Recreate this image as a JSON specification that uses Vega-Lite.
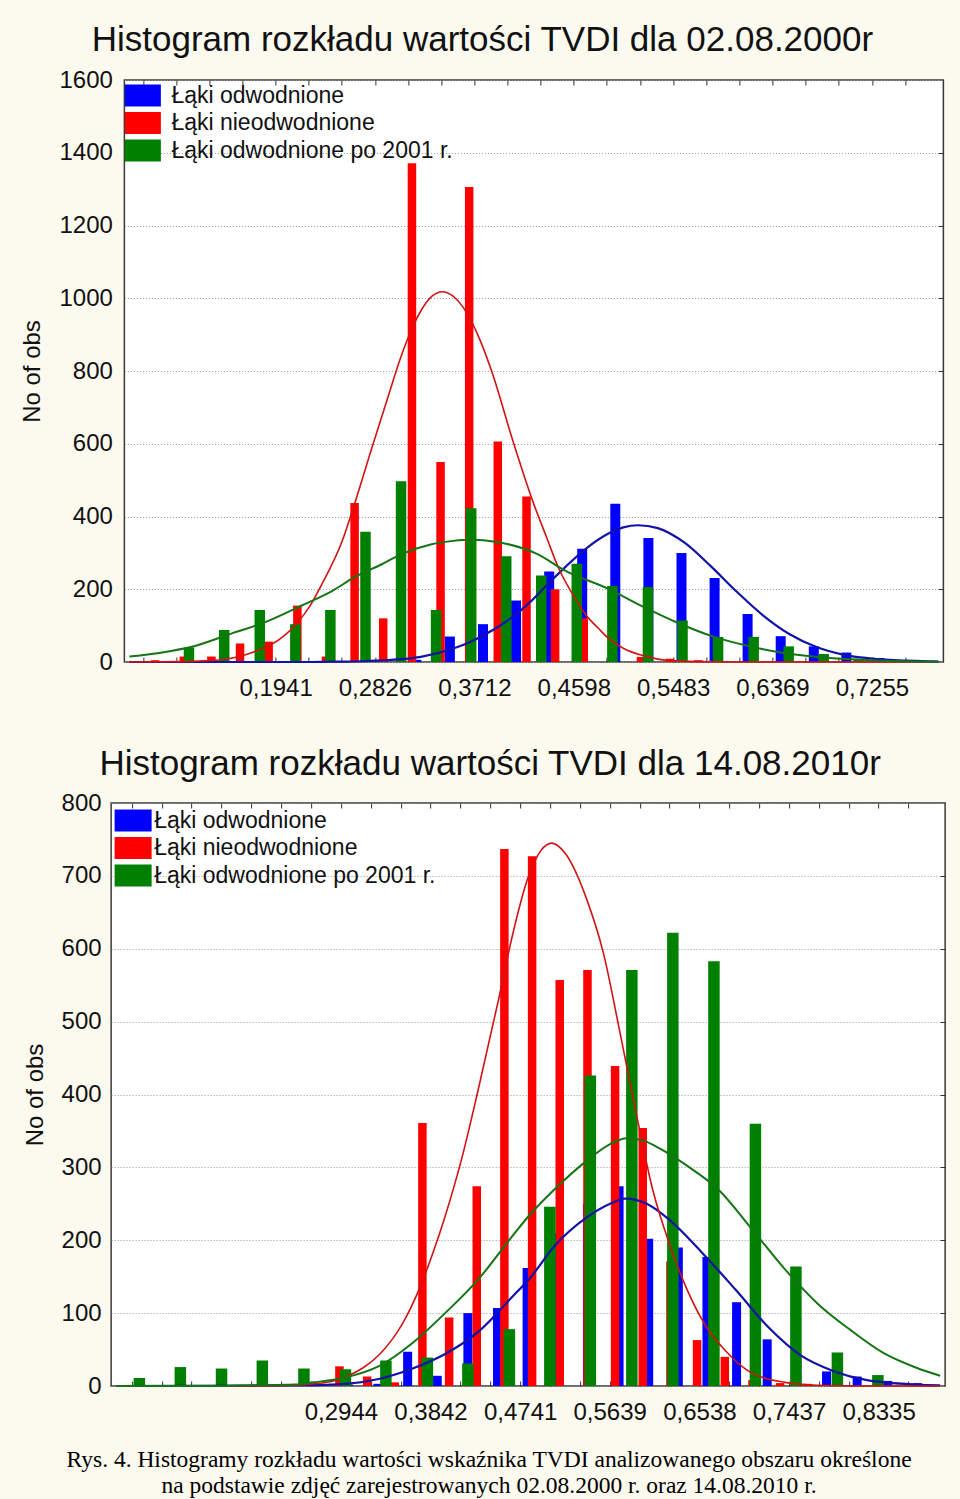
{
  "$schema": "https://vega.github.io/schema/vega-lite/v6.json",
  "background": "#fcf9ef",
  "padding": {"left": 20, "top": 22, "right": 8, "bottom": 2},
  "config": {
    "font": "Liberation Sans",
    "view": {"fill": "white", "stroke": "#3a3a3a", "strokeWidth": 1.5},
    "axis": {"labelFont": "Liberation Sans", "labelFontSize": 24, "labelColor": "#111", "titleFont": "Liberation Sans", "titleFontSize": 24, "titleFontWeight": "normal", "titleColor": "#111", "domain": false, "grid": false, "tickColor": "#333"}
  },
  "datasets": {
    "slupki2000": [
      {"seria": "Łąki odwodnione", "tvdi": 0.2900, "n": 3},
      {"seria": "Łąki odwodnione", "tvdi": 0.3195, "n": 6},
      {"seria": "Łąki odwodnione", "tvdi": 0.3494, "n": 70},
      {"seria": "Łąki odwodnione", "tvdi": 0.3789, "n": 104},
      {"seria": "Łąki odwodnione", "tvdi": 0.4084, "n": 169},
      {"seria": "Łąki odwodnione", "tvdi": 0.4379, "n": 249},
      {"seria": "Łąki odwodnione", "tvdi": 0.4673, "n": 311},
      {"seria": "Łąki odwodnione", "tvdi": 0.4968, "n": 435},
      {"seria": "Łąki odwodnione", "tvdi": 0.5263, "n": 341},
      {"seria": "Łąki odwodnione", "tvdi": 0.5558, "n": 300},
      {"seria": "Łąki odwodnione", "tvdi": 0.5853, "n": 231},
      {"seria": "Łąki odwodnione", "tvdi": 0.6147, "n": 132},
      {"seria": "Łąki odwodnione", "tvdi": 0.6442, "n": 71},
      {"seria": "Łąki odwodnione", "tvdi": 0.6737, "n": 43},
      {"seria": "Łąki odwodnione", "tvdi": 0.7027, "n": 26},
      {"seria": "Łąki odwodnione", "tvdi": 0.7322, "n": 11},
      {"seria": "Łąki odwodnione", "tvdi": 0.7617, "n": 5},
      {"seria": "Łąki nieodwodnione", "tvdi": 0.0867, "n": 5},
      {"seria": "Łąki nieodwodnione", "tvdi": 0.1123, "n": 15},
      {"seria": "Łąki nieodwodnione", "tvdi": 0.1369, "n": 15},
      {"seria": "Łąki nieodwodnione", "tvdi": 0.1624, "n": 51},
      {"seria": "Łąki nieodwodnione", "tvdi": 0.1879, "n": 56},
      {"seria": "Łąki nieodwodnione", "tvdi": 0.2135, "n": 155},
      {"seria": "Łąki nieodwodnione", "tvdi": 0.2390, "n": 15},
      {"seria": "Łąki nieodwodnione", "tvdi": 0.2645, "n": 437},
      {"seria": "Łąki nieodwodnione", "tvdi": 0.2900, "n": 120},
      {"seria": "Łąki nieodwodnione", "tvdi": 0.3156, "n": 1371},
      {"seria": "Łąki nieodwodnione", "tvdi": 0.3411, "n": 550},
      {"seria": "Łąki nieodwodnione", "tvdi": 0.3666, "n": 1306},
      {"seria": "Łąki nieodwodnione", "tvdi": 0.3921, "n": 606},
      {"seria": "Łąki nieodwodnione", "tvdi": 0.4177, "n": 455},
      {"seria": "Łąki nieodwodnione", "tvdi": 0.4432, "n": 200},
      {"seria": "Łąki nieodwodnione", "tvdi": 0.4687, "n": 120},
      {"seria": "Łąki nieodwodnione", "tvdi": 0.4942, "n": 40},
      {"seria": "Łąki nieodwodnione", "tvdi": 0.5197, "n": 14},
      {"seria": "Łąki nieodwodnione", "tvdi": 0.5453, "n": 9},
      {"seria": "Łąki nieodwodnione", "tvdi": 0.5708, "n": 5},
      {"seria": "Łąki odwodnione po 2001 r.", "tvdi": 0.1169, "n": 40},
      {"seria": "Łąki odwodnione po 2001 r.", "tvdi": 0.1483, "n": 88},
      {"seria": "Łąki odwodnione po 2001 r.", "tvdi": 0.1800, "n": 143},
      {"seria": "Łąki odwodnione po 2001 r.", "tvdi": 0.2117, "n": 104},
      {"seria": "Łąki odwodnione po 2001 r.", "tvdi": 0.2429, "n": 143},
      {"seria": "Łąki odwodnione po 2001 r.", "tvdi": 0.2742, "n": 358},
      {"seria": "Łąki odwodnione po 2001 r.", "tvdi": 0.3059, "n": 497},
      {"seria": "Łąki odwodnione po 2001 r.", "tvdi": 0.3371, "n": 143},
      {"seria": "Łąki odwodnione po 2001 r.", "tvdi": 0.3684, "n": 423},
      {"seria": "Łąki odwodnione po 2001 r.", "tvdi": 0.3996, "n": 291},
      {"seria": "Łąki odwodnione po 2001 r.", "tvdi": 0.4308, "n": 238},
      {"seria": "Łąki odwodnione po 2001 r.", "tvdi": 0.4625, "n": 270},
      {"seria": "Łąki odwodnione po 2001 r.", "tvdi": 0.4942, "n": 209},
      {"seria": "Łąki odwodnione po 2001 r.", "tvdi": 0.5259, "n": 206},
      {"seria": "Łąki odwodnione po 2001 r.", "tvdi": 0.5567, "n": 114},
      {"seria": "Łąki odwodnione po 2001 r.", "tvdi": 0.5884, "n": 69},
      {"seria": "Łąki odwodnione po 2001 r.", "tvdi": 0.6201, "n": 69},
      {"seria": "Łąki odwodnione po 2001 r.", "tvdi": 0.6513, "n": 43},
      {"seria": "Łąki odwodnione po 2001 r.", "tvdi": 0.6825, "n": 22},
      {"seria": "Łąki odwodnione po 2001 r.", "tvdi": 0.7138, "n": 9},
      {"seria": "Łąki odwodnione po 2001 r.", "tvdi": 0.7450, "n": 4}
    ],
    "krzywe2000": [
      {"seria": "Łąki odwodnione", "tvdi": 0.0638, "n": 0},
      {"seria": "Łąki odwodnione", "tvdi": 0.2179, "n": 0},
      {"seria": "Łąki odwodnione", "tvdi": 0.2443, "n": 1},
      {"seria": "Łąki odwodnione", "tvdi": 0.2707, "n": 2},
      {"seria": "Łąki odwodnione", "tvdi": 0.2944, "n": 5},
      {"seria": "Łąki odwodnione", "tvdi": 0.3235, "n": 14},
      {"seria": "Łąki odwodnione", "tvdi": 0.3525, "n": 37},
      {"seria": "Łąki odwodnione", "tvdi": 0.3675, "n": 55},
      {"seria": "Łąki odwodnione", "tvdi": 0.3877, "n": 88},
      {"seria": "Łąki odwodnione", "tvdi": 0.4027, "n": 118},
      {"seria": "Łąki odwodnione", "tvdi": 0.4221, "n": 168},
      {"seria": "Łąki odwodnione", "tvdi": 0.4379, "n": 218},
      {"seria": "Łąki odwodnione", "tvdi": 0.4529, "n": 263},
      {"seria": "Łąki odwodnione", "tvdi": 0.4705, "n": 311},
      {"seria": "Łąki odwodnione", "tvdi": 0.4907, "n": 353},
      {"seria": "Łąki odwodnione", "tvdi": 0.5039, "n": 370},
      {"seria": "Łąki odwodnione", "tvdi": 0.5171, "n": 376},
      {"seria": "Łąki odwodnione", "tvdi": 0.5347, "n": 368},
      {"seria": "Łąki odwodnione", "tvdi": 0.5585, "n": 328},
      {"seria": "Łąki odwodnione", "tvdi": 0.5814, "n": 265},
      {"seria": "Łąki odwodnione", "tvdi": 0.6051, "n": 193},
      {"seria": "Łąki odwodnione", "tvdi": 0.6289, "n": 127},
      {"seria": "Łąki odwodnione", "tvdi": 0.6518, "n": 77},
      {"seria": "Łąki odwodnione", "tvdi": 0.6755, "n": 42},
      {"seria": "Łąki odwodnione", "tvdi": 0.7019, "n": 19},
      {"seria": "Łąki odwodnione", "tvdi": 0.7310, "n": 8},
      {"seria": "Łąki odwodnione", "tvdi": 0.7750, "n": 2},
      {"seria": "Łąki odwodnione", "tvdi": 0.7847, "n": 1},
      {"seria": "Łąki nieodwodnione", "tvdi": 0.0638, "n": 0},
      {"seria": "Łąki nieodwodnione", "tvdi": 0.1123, "n": 1},
      {"seria": "Łąki nieodwodnione", "tvdi": 0.1299, "n": 3},
      {"seria": "Łąki nieodwodnione", "tvdi": 0.1475, "n": 7},
      {"seria": "Łąki nieodwodnione", "tvdi": 0.1651, "n": 18},
      {"seria": "Łąki nieodwodnione", "tvdi": 0.1783, "n": 32},
      {"seria": "Łąki nieodwodnione", "tvdi": 0.1915, "n": 50},
      {"seria": "Łąki nieodwodnione", "tvdi": 0.2029, "n": 75},
      {"seria": "Łąki nieodwodnione", "tvdi": 0.2135, "n": 108},
      {"seria": "Łąki nieodwodnione", "tvdi": 0.2249, "n": 155},
      {"seria": "Łąki nieodwodnione", "tvdi": 0.2355, "n": 215},
      {"seria": "Łąki nieodwodnione", "tvdi": 0.2531, "n": 330},
      {"seria": "Łąki nieodwodnione", "tvdi": 0.2645, "n": 435},
      {"seria": "Łąki nieodwodnione", "tvdi": 0.2795, "n": 585},
      {"seria": "Łąki nieodwodnione", "tvdi": 0.2944, "n": 730},
      {"seria": "Łąki nieodwodnione", "tvdi": 0.3059, "n": 840},
      {"seria": "Łąki nieodwodnione", "tvdi": 0.3147, "n": 910},
      {"seria": "Łąki nieodwodnione", "tvdi": 0.3235, "n": 965},
      {"seria": "Łąki nieodwodnione", "tvdi": 0.3332, "n": 1005},
      {"seria": "Łąki nieodwodnione", "tvdi": 0.3428, "n": 1018},
      {"seria": "Łąki nieodwodnione", "tvdi": 0.3525, "n": 1005},
      {"seria": "Łąki nieodwodnione", "tvdi": 0.3613, "n": 975},
      {"seria": "Łąki nieodwodnione", "tvdi": 0.3763, "n": 885},
      {"seria": "Łąki nieodwodnione", "tvdi": 0.3877, "n": 790},
      {"seria": "Łąki nieodwodnione", "tvdi": 0.4053, "n": 610},
      {"seria": "Łąki nieodwodnione", "tvdi": 0.4229, "n": 445},
      {"seria": "Łąki nieodwodnione", "tvdi": 0.4353, "n": 345},
      {"seria": "Łąki nieodwodnione", "tvdi": 0.4467, "n": 255},
      {"seria": "Łąki nieodwodnione", "tvdi": 0.4581, "n": 190},
      {"seria": "Łąki nieodwodnione", "tvdi": 0.4705, "n": 130},
      {"seria": "Łąki nieodwodnione", "tvdi": 0.4819, "n": 92},
      {"seria": "Łąki nieodwodnione", "tvdi": 0.4907, "n": 65},
      {"seria": "Łąki nieodwodnione", "tvdi": 0.5039, "n": 38},
      {"seria": "Łąki nieodwodnione", "tvdi": 0.5197, "n": 19},
      {"seria": "Łąki nieodwodnione", "tvdi": 0.5347, "n": 8},
      {"seria": "Łąki nieodwodnione", "tvdi": 0.5523, "n": 3},
      {"seria": "Łąki nieodwodnione", "tvdi": 0.5699, "n": 1},
      {"seria": "Łąki nieodwodnione", "tvdi": 0.6051, "n": 0},
      {"seria": "Łąki nieodwodnione", "tvdi": 0.7847, "n": 0},
      {"seria": "Łąki odwodnione po 2001 r.", "tvdi": 0.0638, "n": 15},
      {"seria": "Łąki odwodnione po 2001 r.", "tvdi": 0.0946, "n": 27},
      {"seria": "Łąki odwodnione po 2001 r.", "tvdi": 0.1184, "n": 41},
      {"seria": "Łąki odwodnione po 2001 r.", "tvdi": 0.1563, "n": 80},
      {"seria": "Łąki odwodnione po 2001 r.", "tvdi": 0.1827, "n": 107},
      {"seria": "Łąki odwodnione po 2001 r.", "tvdi": 0.2179, "n": 156},
      {"seria": "Łąki odwodnione po 2001 r.", "tvdi": 0.2443, "n": 195},
      {"seria": "Łąki odwodnione po 2001 r.", "tvdi": 0.2645, "n": 233},
      {"seria": "Łąki odwodnione po 2001 r.", "tvdi": 0.2883, "n": 268},
      {"seria": "Łąki odwodnione po 2001 r.", "tvdi": 0.3059, "n": 296},
      {"seria": "Łąki odwodnione po 2001 r.", "tvdi": 0.3323, "n": 323},
      {"seria": "Łąki odwodnione po 2001 r.", "tvdi": 0.3525, "n": 333},
      {"seria": "Łąki odwodnione po 2001 r.", "tvdi": 0.3675, "n": 336},
      {"seria": "Łąki odwodnione po 2001 r.", "tvdi": 0.3912, "n": 330},
      {"seria": "Łąki odwodnione po 2001 r.", "tvdi": 0.4265, "n": 298},
      {"seria": "Łąki odwodnione po 2001 r.", "tvdi": 0.4529, "n": 250},
      {"seria": "Łąki odwodnione po 2001 r.", "tvdi": 0.4907, "n": 201},
      {"seria": "Łąki odwodnione po 2001 r.", "tvdi": 0.5197, "n": 155},
      {"seria": "Łąki odwodnione po 2001 r.", "tvdi": 0.5523, "n": 108},
      {"seria": "Łąki odwodnione po 2001 r.", "tvdi": 0.5849, "n": 69},
      {"seria": "Łąki odwodnione po 2001 r.", "tvdi": 0.6139, "n": 45},
      {"seria": "Łąki odwodnione po 2001 r.", "tvdi": 0.6430, "n": 27},
      {"seria": "Łąki odwodnione po 2001 r.", "tvdi": 0.6729, "n": 15},
      {"seria": "Łąki odwodnione po 2001 r.", "tvdi": 0.7019, "n": 8},
      {"seria": "Łąki odwodnione po 2001 r.", "tvdi": 0.7310, "n": 4},
      {"seria": "Łąki odwodnione po 2001 r.", "tvdi": 0.7750, "n": 1},
      {"seria": "Łąki odwodnione po 2001 r.", "tvdi": 0.7847, "n": 1}
    ],
    "slupki2010": [
      {"seria": "Łąki odwodnione", "tvdi": 0.3018, "n": 2},
      {"seria": "Łąki odwodnione", "tvdi": 0.3315, "n": 3},
      {"seria": "Łąki odwodnione", "tvdi": 0.3613, "n": 47},
      {"seria": "Łąki odwodnione", "tvdi": 0.3910, "n": 14},
      {"seria": "Łąki odwodnione", "tvdi": 0.4217, "n": 100},
      {"seria": "Łąki odwodnione", "tvdi": 0.4514, "n": 107},
      {"seria": "Łąki odwodnione", "tvdi": 0.4811, "n": 162},
      {"seria": "Łąki odwodnione", "tvdi": 0.5108, "n": 210},
      {"seria": "Łąki odwodnione", "tvdi": 0.5416, "n": 250},
      {"seria": "Łąki odwodnione", "tvdi": 0.5733, "n": 274},
      {"seria": "Łąki odwodnione", "tvdi": 0.6030, "n": 202},
      {"seria": "Łąki odwodnione", "tvdi": 0.6327, "n": 190},
      {"seria": "Łąki odwodnione", "tvdi": 0.6614, "n": 177},
      {"seria": "Łąki odwodnione", "tvdi": 0.6911, "n": 115},
      {"seria": "Łąki odwodnione", "tvdi": 0.7218, "n": 64},
      {"seria": "Łąki odwodnione", "tvdi": 0.7516, "n": 40},
      {"seria": "Łąki odwodnione", "tvdi": 0.7813, "n": 20},
      {"seria": "Łąki odwodnione", "tvdi": 0.8120, "n": 13},
      {"seria": "Łąki odwodnione", "tvdi": 0.8427, "n": 7},
      {"seria": "Łąki odwodnione", "tvdi": 0.8724, "n": 4},
      {"seria": "Łąki nieodwodnione", "tvdi": 0.2672, "n": 3},
      {"seria": "Łąki nieodwodnione", "tvdi": 0.2929, "n": 27},
      {"seria": "Łąki nieodwodnione", "tvdi": 0.3207, "n": 13},
      {"seria": "Łąki nieodwodnione", "tvdi": 0.3484, "n": 5},
      {"seria": "Łąki nieodwodnione", "tvdi": 0.3761, "n": 361},
      {"seria": "Łąki nieodwodnione", "tvdi": 0.4029, "n": 94},
      {"seria": "Łąki nieodwodnione", "tvdi": 0.4306, "n": 274},
      {"seria": "Łąki nieodwodnione", "tvdi": 0.4583, "n": 737},
      {"seria": "Łąki nieodwodnione", "tvdi": 0.4861, "n": 727},
      {"seria": "Łąki nieodwodnione", "tvdi": 0.5138, "n": 557},
      {"seria": "Łąki nieodwodnione", "tvdi": 0.5416, "n": 571},
      {"seria": "Łąki nieodwodnione", "tvdi": 0.5693, "n": 439},
      {"seria": "Łąki nieodwodnione", "tvdi": 0.5970, "n": 354},
      {"seria": "Łąki nieodwodnione", "tvdi": 0.6248, "n": 171},
      {"seria": "Łąki nieodwodnione", "tvdi": 0.6515, "n": 63},
      {"seria": "Łąki nieodwodnione", "tvdi": 0.6793, "n": 40},
      {"seria": "Łąki nieodwodnione", "tvdi": 0.7070, "n": 8},
      {"seria": "Łąki nieodwodnione", "tvdi": 0.7347, "n": 4},
      {"seria": "Łąki nieodwodnione", "tvdi": 0.7625, "n": 3},
      {"seria": "Łąki odwodnione po 2001 r.", "tvdi": 0.0923, "n": 11},
      {"seria": "Łąki odwodnione po 2001 r.", "tvdi": 0.1334, "n": 26},
      {"seria": "Łąki odwodnione po 2001 r.", "tvdi": 0.1747, "n": 24},
      {"seria": "Łąki odwodnione po 2001 r.", "tvdi": 0.2156, "n": 35},
      {"seria": "Łąki odwodnione po 2001 r.", "tvdi": 0.2573, "n": 24},
      {"seria": "Łąki odwodnione po 2001 r.", "tvdi": 0.2989, "n": 23},
      {"seria": "Łąki odwodnione po 2001 r.", "tvdi": 0.3395, "n": 35},
      {"seria": "Łąki odwodnione po 2001 r.", "tvdi": 0.3811, "n": 39},
      {"seria": "Łąki odwodnione po 2001 r.", "tvdi": 0.4217, "n": 31},
      {"seria": "Łąki odwodnione po 2001 r.", "tvdi": 0.4633, "n": 78},
      {"seria": "Łąki odwodnione po 2001 r.", "tvdi": 0.5039, "n": 246},
      {"seria": "Łąki odwodnione po 2001 r.", "tvdi": 0.5445, "n": 426},
      {"seria": "Łąki odwodnione po 2001 r.", "tvdi": 0.5861, "n": 571},
      {"seria": "Łąki odwodnione po 2001 r.", "tvdi": 0.6272, "n": 622},
      {"seria": "Łąki odwodnione po 2001 r.", "tvdi": 0.6684, "n": 583},
      {"seria": "Łąki odwodnione po 2001 r.", "tvdi": 0.7100, "n": 360},
      {"seria": "Łąki odwodnione po 2001 r.", "tvdi": 0.7506, "n": 164},
      {"seria": "Łąki odwodnione po 2001 r.", "tvdi": 0.7922, "n": 46},
      {"seria": "Łąki odwodnione po 2001 r.", "tvdi": 0.8328, "n": 15}
    ],
    "krzywe2010": [
      {"seria": "Łąki odwodnione", "tvdi": 0.0690, "n": 0},
      {"seria": "Łąki odwodnione", "tvdi": 0.2573, "n": 1},
      {"seria": "Łąki odwodnione", "tvdi": 0.2998, "n": 3},
      {"seria": "Łąki odwodnione", "tvdi": 0.3335, "n": 10},
      {"seria": "Łąki odwodnione", "tvdi": 0.3662, "n": 24},
      {"seria": "Łąki odwodnione", "tvdi": 0.3989, "n": 44},
      {"seria": "Łąki odwodnione", "tvdi": 0.4326, "n": 75},
      {"seria": "Łąki odwodnione", "tvdi": 0.4653, "n": 121},
      {"seria": "Łąki odwodnione", "tvdi": 0.4851, "n": 150},
      {"seria": "Łąki odwodnione", "tvdi": 0.5079, "n": 191},
      {"seria": "Łąki odwodnione", "tvdi": 0.5416, "n": 232},
      {"seria": "Łąki odwodnione", "tvdi": 0.5643, "n": 250},
      {"seria": "Łąki odwodnione", "tvdi": 0.5792, "n": 257},
      {"seria": "Łąki odwodnione", "tvdi": 0.6010, "n": 250},
      {"seria": "Łąki odwodnione", "tvdi": 0.6238, "n": 228},
      {"seria": "Łąki odwodnione", "tvdi": 0.6565, "n": 183},
      {"seria": "Łąki odwodnione", "tvdi": 0.6902, "n": 132},
      {"seria": "Łąki odwodnione", "tvdi": 0.7228, "n": 81},
      {"seria": "Łąki odwodnione", "tvdi": 0.7555, "n": 42},
      {"seria": "Łąki odwodnione", "tvdi": 0.7892, "n": 20},
      {"seria": "Łąki odwodnione", "tvdi": 0.8219, "n": 8},
      {"seria": "Łąki odwodnione", "tvdi": 0.8714, "n": 2},
      {"seria": "Łąki odwodnione", "tvdi": 0.8952, "n": 1},
      {"seria": "Łąki nieodwodnione", "tvdi": 0.0690, "n": 0},
      {"seria": "Łąki nieodwodnione", "tvdi": 0.2077, "n": 0},
      {"seria": "Łąki nieodwodnione", "tvdi": 0.2473, "n": 1},
      {"seria": "Łąki nieodwodnione", "tvdi": 0.2672, "n": 3},
      {"seria": "Łąki nieodwodnione", "tvdi": 0.2870, "n": 7},
      {"seria": "Łąki nieodwodnione", "tvdi": 0.2998, "n": 13},
      {"seria": "Łąki nieodwodnione", "tvdi": 0.3167, "n": 25},
      {"seria": "Łąki nieodwodnione", "tvdi": 0.3335, "n": 44},
      {"seria": "Łąki nieodwodnione", "tvdi": 0.3464, "n": 65},
      {"seria": "Łąki nieodwodnione", "tvdi": 0.3563, "n": 86},
      {"seria": "Łąki nieodwodnione", "tvdi": 0.3732, "n": 134},
      {"seria": "Łąki nieodwodnione", "tvdi": 0.3860, "n": 180},
      {"seria": "Łąki nieodwodnione", "tvdi": 0.3989, "n": 233},
      {"seria": "Łąki nieodwodnione", "tvdi": 0.4157, "n": 313},
      {"seria": "Łąki nieodwodnione", "tvdi": 0.4326, "n": 410},
      {"seria": "Łąki nieodwodnione", "tvdi": 0.4524, "n": 530},
      {"seria": "Łąki nieodwodnione", "tvdi": 0.4653, "n": 612},
      {"seria": "Łąki nieodwodnione", "tvdi": 0.4821, "n": 698},
      {"seria": "Łąki nieodwodnione", "tvdi": 0.4950, "n": 735},
      {"seria": "Łąki nieodwodnione", "tvdi": 0.5059, "n": 745},
      {"seria": "Łąki nieodwodnione", "tvdi": 0.5198, "n": 730},
      {"seria": "Łąki nieodwodnione", "tvdi": 0.5416, "n": 665},
      {"seria": "Łąki nieodwodnione", "tvdi": 0.5574, "n": 595},
      {"seria": "Łąki nieodwodnione", "tvdi": 0.5742, "n": 485},
      {"seria": "Łąki nieodwodnione", "tvdi": 0.5911, "n": 370},
      {"seria": "Łąki nieodwodnione", "tvdi": 0.6069, "n": 270},
      {"seria": "Łąki nieodwodnione", "tvdi": 0.6238, "n": 195},
      {"seria": "Łąki nieodwodnione", "tvdi": 0.6406, "n": 135},
      {"seria": "Łąki nieodwodnione", "tvdi": 0.6604, "n": 82},
      {"seria": "Łąki nieodwodnione", "tvdi": 0.6802, "n": 48},
      {"seria": "Łąki nieodwodnione", "tvdi": 0.7060, "n": 18},
      {"seria": "Łąki nieodwodnione", "tvdi": 0.7397, "n": 5},
      {"seria": "Łąki nieodwodnione", "tvdi": 0.7724, "n": 1},
      {"seria": "Łąki nieodwodnione", "tvdi": 0.8120, "n": 0},
      {"seria": "Łąki nieodwodnione", "tvdi": 0.8952, "n": 0},
      {"seria": "Łąki odwodnione po 2001 r.", "tvdi": 0.0690, "n": 0},
      {"seria": "Łąki odwodnione po 2001 r.", "tvdi": 0.1582, "n": 0},
      {"seria": "Łąki odwodnione po 2001 r.", "tvdi": 0.2077, "n": 1},
      {"seria": "Łąki odwodnione po 2001 r.", "tvdi": 0.2473, "n": 2},
      {"seria": "Łąki odwodnione po 2001 r.", "tvdi": 0.2672, "n": 5},
      {"seria": "Łąki odwodnione po 2001 r.", "tvdi": 0.2998, "n": 12},
      {"seria": "Łąki odwodnione po 2001 r.", "tvdi": 0.3335, "n": 28},
      {"seria": "Łąki odwodnione po 2001 r.", "tvdi": 0.3662, "n": 59},
      {"seria": "Łąki odwodnione po 2001 r.", "tvdi": 0.3989, "n": 100},
      {"seria": "Łąki odwodnione po 2001 r.", "tvdi": 0.4326, "n": 147},
      {"seria": "Łąki odwodnione po 2001 r.", "tvdi": 0.4653, "n": 204},
      {"seria": "Łąki odwodnione po 2001 r.", "tvdi": 0.4851, "n": 237},
      {"seria": "Łąki odwodnione po 2001 r.", "tvdi": 0.5079, "n": 269},
      {"seria": "Łąki odwodnione po 2001 r.", "tvdi": 0.5416, "n": 310},
      {"seria": "Łąki odwodnione po 2001 r.", "tvdi": 0.5643, "n": 332},
      {"seria": "Łąki odwodnione po 2001 r.", "tvdi": 0.5812, "n": 340},
      {"seria": "Łąki odwodnione po 2001 r.", "tvdi": 0.5990, "n": 336},
      {"seria": "Łąki odwodnione po 2001 r.", "tvdi": 0.6139, "n": 326},
      {"seria": "Łąki odwodnione po 2001 r.", "tvdi": 0.6406, "n": 303},
      {"seria": "Łąki odwodnione po 2001 r.", "tvdi": 0.6733, "n": 269},
      {"seria": "Łąki odwodnione po 2001 r.", "tvdi": 0.7060, "n": 216},
      {"seria": "Łąki odwodnione po 2001 r.", "tvdi": 0.7397, "n": 160},
      {"seria": "Łąki odwodnione po 2001 r.", "tvdi": 0.7724, "n": 113},
      {"seria": "Łąki odwodnione po 2001 r.", "tvdi": 0.8051, "n": 77},
      {"seria": "Łąki odwodnione po 2001 r.", "tvdi": 0.8387, "n": 45},
      {"seria": "Łąki odwodnione po 2001 r.", "tvdi": 0.8714, "n": 25},
      {"seria": "Łąki odwodnione po 2001 r.", "tvdi": 0.8952, "n": 14}
    ]
  },
  "title": {
    "text": ["Rys. 4. Histogramy rozkładu wartości wskaźnika TVDI analizowanego obszaru określone", "na podstawie zdjęć zarejestrowanych 02.08.2000 r. oraz 14.08.2010 r."],
    "orient": "bottom", "anchor": "middle", "font": "Liberation Serif", "fontSize": 23.5, "fontWeight": "normal", "color": "#000", "lineHeight": 26, "offset": 23, "baseline": "top"
  },
  "center": true,
  "spacing": 45,
  "resolve": {"scale": {"color": "independent"}, "legend": {"color": "independent"}},
  "vconcat": [
    {
      "width": 819, "height": 582,
      "title": {"text": "Histogram rozkładu wartości TVDI dla 02.08.2000r", "font": "Liberation Sans", "fontSize": 35, "fontWeight": "normal", "color": "#111", "anchor": "middle", "frame": "bounds", "baseline": "alphabetic", "offset": -18},
      "resolve": {"axis": {"x": "independent", "y": "independent"}},
      "layer": [
        {
          "data": {"name": "slupki2000"},
          "transform": [{"filter": "datum.seria == 'Łąki odwodnione'"}],
          "mark": {"type": "bar", "width": 10, "orient": "vertical"},
          "encoding": {
            "x": {"field": "tvdi", "type": "quantitative", "scale": {"domain": [0.0638, 0.7847], "nice": false, "zero": false},
              "axis": {"orient": "bottom", "title": null, "values": [0.0761, 0.1056, 0.1351, 0.1646, 0.1941, 0.2236, 0.2531, 0.2826, 0.3121, 0.3417, 0.3712, 0.4007, 0.4302, 0.4598, 0.4893, 0.5188, 0.5483, 0.5778, 0.6074, 0.6369, 0.6664, 0.6959, 0.7255, 0.755],
                "labelExpr": "indexof(['0.1941','0.2826','0.3712','0.4598','0.5483','0.6369','0.7255'], format(datum.value, '.4f')) >= 0 ? replace(format(datum.value, '.4f'), '.', ',') : ''",
                "ticks": true, "tickSize": -5, "labelPadding": 19, "labelFlush": false, "labelOverlap": false}},
            "y": {"field": "n", "type": "quantitative", "scale": {"domain": [0, 1600], "nice": false},
              "axis": {"orient": "left", "title": "No of obs", "titlePadding": 14, "format": "d", "values": [0, 200, 400, 600, 800, 1000, 1200, 1400, 1600], "ticks": false, "tickSize": 0, "labelPadding": 12, "grid": true, "gridDash": [1, 2], "gridColor": "#999", "gridWidth": 1}},
            "color": {"field": "seria", "type": "nominal",
              "scale": {"domain": ["Łąki odwodnione", "Łąki nieodwodnione", "Łąki odwodnione po 2001 r."], "range": ["#0000ff", "#ff0000", "#008000"]},
              "legend": {"orient": "top-left", "offset": 4, "title": null, "padding": 0, "symbolType": "M-1.364,-1H1.909V1H-1.364Z", "symbolSize": 484, "symbolStrokeWidth": 0, "symbolOpacity": 1, "labelFont": "Liberation Sans", "labelFontSize": 23, "labelColor": "#111", "labelOffset": 20, "labelLimit": 600, "rowPadding": 3.5}}
          }
        },
        {
          "data": {"name": "slupki2000"},
          "transform": [{"filter": "datum.seria == 'Łąki nieodwodnione'"}],
          "mark": {"type": "bar", "width": 8.5, "orient": "vertical"},
          "encoding": {
            "x": {"field": "tvdi", "type": "quantitative", "axis": null},
            "y": {"field": "n", "type": "quantitative", "axis": null},
            "color": {"field": "seria", "type": "nominal"}
          }
        },
        {
          "data": {"name": "slupki2000"},
          "transform": [{"filter": "datum.seria == 'Łąki odwodnione po 2001 r.'"}],
          "mark": {"type": "bar", "width": 10.5, "orient": "vertical"},
          "encoding": {
            "x": {"field": "tvdi", "type": "quantitative", "axis": null},
            "y": {"field": "n", "type": "quantitative", "axis": null},
            "color": {"field": "seria", "type": "nominal"}
          }
        },
        {
          "data": {"name": "krzywe2000"},
          "transform": [{"filter": "datum.seria == 'Łąki odwodnione'"}],
          "mark": {"type": "line", "color": "#1212a8", "strokeWidth": 2.2, "interpolate": "monotone"},
          "encoding": {
            "x": {"field": "tvdi", "type": "quantitative", "axis": {"orient": "top", "title": null, "labels": false, "domain": false, "grid": false, "ticks": true, "tickSize": -5, "minExtent": 0, "maxExtent": 0, "values": [0.0761, 0.1056, 0.1351, 0.1646, 0.1941, 0.2236, 0.2531, 0.2826, 0.3121, 0.3417, 0.3712, 0.4007, 0.4302, 0.4598, 0.4893, 0.5188, 0.5483, 0.5778, 0.6074, 0.6369, 0.6664, 0.6959, 0.7255, 0.755]}},
            "y": {"field": "n", "type": "quantitative", "axis": {"orient": "right", "title": null, "labels": false, "domain": false, "grid": false, "ticks": true, "tickSize": -5, "minExtent": 0, "maxExtent": 0, "values": [200, 400, 600, 800, 1000, 1200, 1400]}}
          }
        },
        {
          "data": {"name": "krzywe2000"},
          "transform": [{"filter": "datum.seria == 'Łąki nieodwodnione'"}],
          "mark": {"type": "line", "color": "#d01414", "strokeWidth": 1.6, "interpolate": "monotone"},
          "encoding": {
            "x": {"field": "tvdi", "type": "quantitative", "axis": null},
            "y": {"field": "n", "type": "quantitative", "axis": null}
          }
        },
        {
          "data": {"name": "krzywe2000"},
          "transform": [{"filter": "datum.seria == 'Łąki odwodnione po 2001 r.'"}],
          "mark": {"type": "line", "color": "#157515", "strokeWidth": 2, "interpolate": "monotone"},
          "encoding": {
            "x": {"field": "tvdi", "type": "quantitative", "axis": null},
            "y": {"field": "n", "type": "quantitative", "axis": null}
          }
        }
      ]
    },
    {
      "width": 834, "height": 583,
      "title": {"text": "Histogram rozkładu wartości TVDI dla 14.08.2010r", "font": "Liberation Sans", "fontSize": 35, "fontWeight": "normal", "color": "#111", "anchor": "middle", "frame": "bounds", "baseline": "alphabetic", "offset": -19},
      "resolve": {"axis": {"x": "independent", "y": "independent"}},
      "layer": [
        {
          "data": {"name": "slupki2010"},
          "transform": [{"filter": "datum.seria == 'Łąki odwodnione'"}],
          "mark": {"type": "bar", "width": 9, "orient": "vertical"},
          "encoding": {
            "x": {"field": "tvdi", "type": "quantitative", "scale": {"domain": [0.069, 0.8952], "nice": false, "zero": false},
              "axis": {"orient": "bottom", "title": null, "values": [0.0848, 0.1147, 0.1447, 0.1746, 0.2046, 0.2345, 0.2645, 0.2944, 0.3243, 0.3543, 0.3842, 0.4142, 0.4441, 0.4741, 0.504, 0.534, 0.5639, 0.5939, 0.6238, 0.6538, 0.6837, 0.7137, 0.7437, 0.7736, 0.8036, 0.8335, 0.8635],
                "labelExpr": "indexof(['0.2944','0.3842','0.4741','0.5639','0.6538','0.7437','0.8335'], format(datum.value, '.4f')) >= 0 ? replace(format(datum.value, '.4f'), '.', ',') : ''",
                "ticks": true, "tickSize": -5, "labelPadding": 19, "labelFlush": false, "labelOverlap": false}},
            "y": {"field": "n", "type": "quantitative", "scale": {"domain": [0, 800], "nice": false},
              "axis": {"orient": "left", "title": "No of obs", "titlePadding": 14, "format": "d", "values": [0, 100, 200, 300, 400, 500, 600, 700, 800], "ticks": false, "tickSize": 0, "labelPadding": 10, "grid": true, "gridDash": [1, 2], "gridColor": "#999", "gridWidth": 1}},
            "color": {"field": "seria", "type": "nominal",
              "scale": {"domain": ["Łąki odwodnione", "Łąki nieodwodnione", "Łąki odwodnione po 2001 r."], "range": ["#0000ff", "#ff0000", "#008000"]},
              "legend": {"orient": "top-left", "offset": 6, "title": null, "padding": 0, "symbolType": "M-1.273,-1H2.091V1H-1.273Z", "symbolSize": 484, "symbolStrokeWidth": 0, "symbolOpacity": 1, "labelFont": "Liberation Sans", "labelFontSize": 23, "labelColor": "#111", "labelOffset": 14, "labelLimit": 600, "rowPadding": 3.5}}
          }
        },
        {
          "data": {"name": "slupki2010"},
          "transform": [{"filter": "datum.seria == 'Łąki nieodwodnione'"}],
          "mark": {"type": "bar", "width": 8.5, "orient": "vertical"},
          "encoding": {
            "x": {"field": "tvdi", "type": "quantitative", "axis": null},
            "y": {"field": "n", "type": "quantitative", "axis": null},
            "color": {"field": "seria", "type": "nominal"}
          }
        },
        {
          "data": {"name": "slupki2010"},
          "transform": [{"filter": "datum.seria == 'Łąki odwodnione po 2001 r.'"}],
          "mark": {"type": "bar", "width": 11.5, "orient": "vertical"},
          "encoding": {
            "x": {"field": "tvdi", "type": "quantitative", "axis": null},
            "y": {"field": "n", "type": "quantitative", "axis": null},
            "color": {"field": "seria", "type": "nominal"}
          }
        },
        {
          "data": {"name": "krzywe2010"},
          "transform": [{"filter": "datum.seria == 'Łąki odwodnione'"}],
          "mark": {"type": "line", "color": "#1212a8", "strokeWidth": 2.2, "interpolate": "monotone"},
          "encoding": {
            "x": {"field": "tvdi", "type": "quantitative", "axis": {"orient": "top", "title": null, "labels": false, "domain": false, "grid": false, "ticks": true, "tickSize": -5, "minExtent": 0, "maxExtent": 0, "values": [0.0848, 0.1147, 0.1447, 0.1746, 0.2046, 0.2345, 0.2645, 0.2944, 0.3243, 0.3543, 0.3842, 0.4142, 0.4441, 0.4741, 0.504, 0.534, 0.5639, 0.5939, 0.6238, 0.6538, 0.6837, 0.7137, 0.7437, 0.7736, 0.8036, 0.8335, 0.8635]}},
            "y": {"field": "n", "type": "quantitative", "axis": {"orient": "right", "title": null, "labels": false, "domain": false, "grid": false, "ticks": true, "tickSize": -5, "minExtent": 12, "maxExtent": 12, "values": [100, 200, 300, 400, 500, 600, 700]}}
          }
        },
        {
          "data": {"name": "krzywe2010"},
          "transform": [{"filter": "datum.seria == 'Łąki nieodwodnione'"}],
          "mark": {"type": "line", "color": "#d01414", "strokeWidth": 1.6, "interpolate": "monotone"},
          "encoding": {
            "x": {"field": "tvdi", "type": "quantitative", "axis": null},
            "y": {"field": "n", "type": "quantitative", "axis": null}
          }
        },
        {
          "data": {"name": "krzywe2010"},
          "transform": [{"filter": "datum.seria == 'Łąki odwodnione po 2001 r.'"}],
          "mark": {"type": "line", "color": "#157515", "strokeWidth": 2, "interpolate": "monotone"},
          "encoding": {
            "x": {"field": "tvdi", "type": "quantitative", "axis": null},
            "y": {"field": "n", "type": "quantitative", "axis": null}
          }
        }
      ]
    }
  ]
}
